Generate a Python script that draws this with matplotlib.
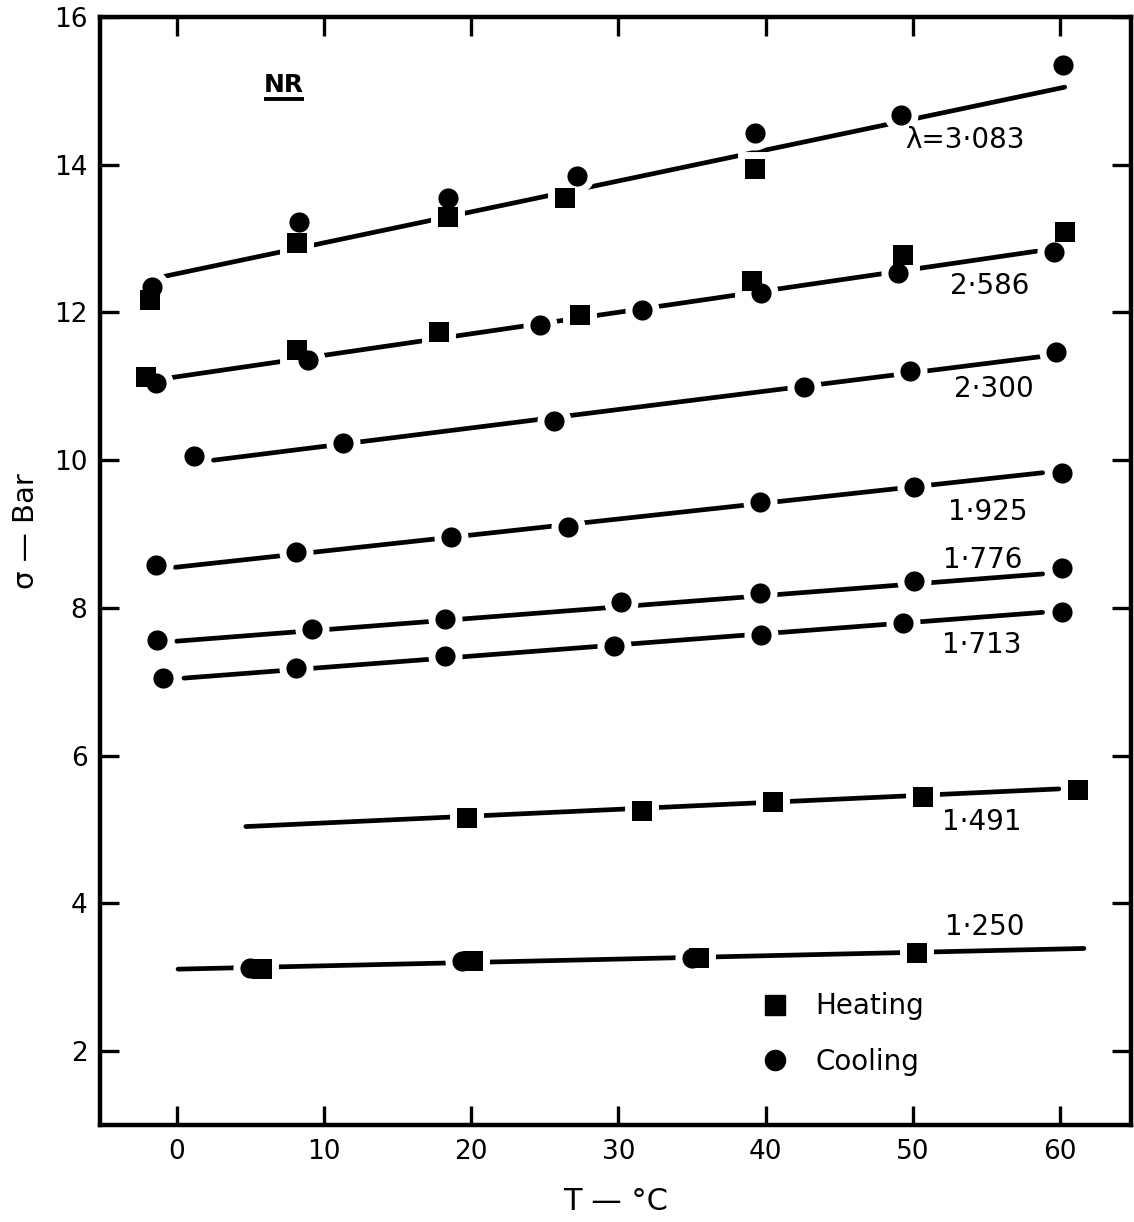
import matplotlib
matplotlib.use("Agg")
import matplotlib.pyplot as plt
from matplotlib.lines import Line2D

# extension ratios and the label placed beside each line
ratios = ["λ=3·083", "2·586", "2·300", "1·925", "1·776", "1·713", "1·491", "1·250"]
label_x = [53.5, 55.2, 55.5, 55.1, 54.7, 54.7, 54.7, 54.9]
label_y = [14.33, 12.36, 10.96, 9.30, 8.65, 7.50, 5.10, 3.68]

# heating runs (squares), T in degC, stress in bar
heat_T = [
    [-1.8, 8.2, 18.4, 26.4, 39.3],
    [-2.1, 8.2, 17.8, 27.4, 39.1, 49.3, 60.3],
    [],
    [],
    [],
    [],
    [19.7, 31.6, 40.5, 50.7, 61.2],
    [5.8, 20.1, 35.5, 50.3],
]
heat_sig = [
    [12.17, 12.94, 13.29, 13.55, 13.94],
    [11.13, 11.49, 11.73, 11.96, 12.43, 12.78, 13.09],
    [],
    [],
    [],
    [],
    [5.16, 5.25, 5.37, 5.44, 5.53],
    [3.11, 3.22, 3.26, 3.33],
]

# cooling runs (circles)
cool_T = [
    [-1.7, 8.3, 18.4, 27.2, 39.3, 49.2, 60.2],
    [-1.4, 8.9, 24.7, 31.6, 39.7, 49.0, 59.6],
    [1.2, 11.3, 25.6, 42.6, 49.8, 59.7],
    [-1.4, 8.1, 18.6, 26.6, 39.6, 50.1, 60.1],
    [-1.35, 9.2, 18.2, 30.2, 39.6, 50.1, 60.1],
    [-0.9, 8.1, 18.2, 29.7, 39.7, 49.3, 60.1],
    [],
    [5.0, 19.4, 35.0],
]
cool_sig = [
    [12.34, 13.22, 13.55, 13.85, 14.43, 14.67, 15.35],
    [11.04, 11.36, 11.83, 12.03, 12.26, 12.53, 12.82],
    [10.06, 10.23, 10.53, 10.99, 11.21, 11.46],
    [8.58, 8.76, 8.96, 9.09, 9.43, 9.64, 9.83],
    [7.56, 7.71, 7.85, 8.08, 8.20, 8.36, 8.54],
    [7.05, 7.19, 7.35, 7.48, 7.63, 7.79, 7.94],
    [],
    [3.13, 3.22, 3.26],
]

# straight lines drawn through each set: (T start, sigma start, T end, sigma end)
fit_T0 = [-0.8, -0.3, 2.5, -0.1, 0.0, 0.5, 4.7, 0.1]
fit_s0 = [12.49, 11.12, 10.00, 8.55, 7.55, 7.05, 5.04, 3.11]
fit_T1 = [60.3, 58.4, 58.6, 58.8, 58.8, 58.8, 59.9, 61.6]
fit_s1 = [15.05, 12.83, 11.40, 9.83, 8.46, 7.94, 5.55, 3.39]

x_ticks = [0, 10, 20, 30, 40, 50, 60]
y_ticks = [2, 4, 6, 8, 10, 12, 14, 16]

plt.rcParams["font.family"] = ["DejaVu Sans"]

fig = plt.figure(figsize=(11.34, 12.22), dpi=100)
ax = fig.add_axes([100 / 1134, 1 - 1125 / 1222, 1031 / 1134, 1108 / 1222])

sq_size = 14.5
o_size = 14.5
halo = 10

for i in range(len(ratios)):
    ax.plot([fit_T0[i], fit_T1[i]], [fit_s0[i], fit_s1[i]], color="black",
            lw=3.4, solid_capstyle="round", zorder=2)
    # white halo breaks the line around each point
    if heat_T[i]:
        ax.plot(heat_T[i], heat_sig[i], ls="none", marker="s", ms=sq_size,
                mfc="white", mec="white", mew=halo, zorder=3)
    if cool_T[i]:
        ax.plot(cool_T[i], cool_sig[i], ls="none", marker="o", ms=o_size,
                mfc="white", mec="white", mew=halo, zorder=3)

for i in range(len(ratios)):
    if heat_T[i]:
        ax.plot(heat_T[i], heat_sig[i], ls="none", marker="s", ms=sq_size,
                mfc="black", mec="black", mew=0, zorder=4)
    if cool_T[i]:
        ax.plot(cool_T[i], cool_sig[i], ls="none", marker="o", ms=o_size,
                mfc="black", mec="black", mew=0, zorder=4)
    ax.text(label_x[i], label_y[i], ratios[i], fontsize=20, ha="center",
            va="center", zorder=5)

ax.set_xlim(-5.2, 64.8)
ax.set_ylim(1, 16)
ax.set_xticks(x_ticks)
ax.set_yticks(y_ticks)
ax.tick_params(direction="in", length=14, width=2.4, labelsize=19,
               top=True, right=True, pad=9)
ax.tick_params(axis="x", pad=10)
for s in ax.spines.values():
    s.set_linewidth(3.2)

ax.set_xlabel("T — °C", fontsize=22)
ax.xaxis.set_label_coords(0.5, -0.056)
ax.set_ylabel("σ — Bar", fontsize=21)
ax.yaxis.set_label_coords(-0.058, 0.536)

handles = [
    Line2D([], [], ls="none", marker="s", ms=sq_size, color="black"),
    Line2D([], [], ls="none", marker="o", ms=o_size, color="black"),
]
ax.legend(handles, ["Heating", "Cooling"], loc="center left",
          bbox_to_anchor=(0.641, 0.082), frameon=False, fontsize=20,
          handlelength=1.0, handletextpad=0.95, labelspacing=1.0,
          borderpad=0, borderaxespad=0)

# sample name, underlined
nr = ax.text(7.3, 15.08, "NR", fontsize=18, fontweight="bold", ha="center",
             va="center")
fig.canvas.draw()
bb = nr.get_window_extent().transformed(ax.transData.inverted())
ax.plot([bb.x0, bb.x1], [bb.y0 - 0.03, bb.y0 - 0.03], color="black", lw=2.8,
        solid_capstyle="butt")

fig.savefig("out.png", dpi=100)
